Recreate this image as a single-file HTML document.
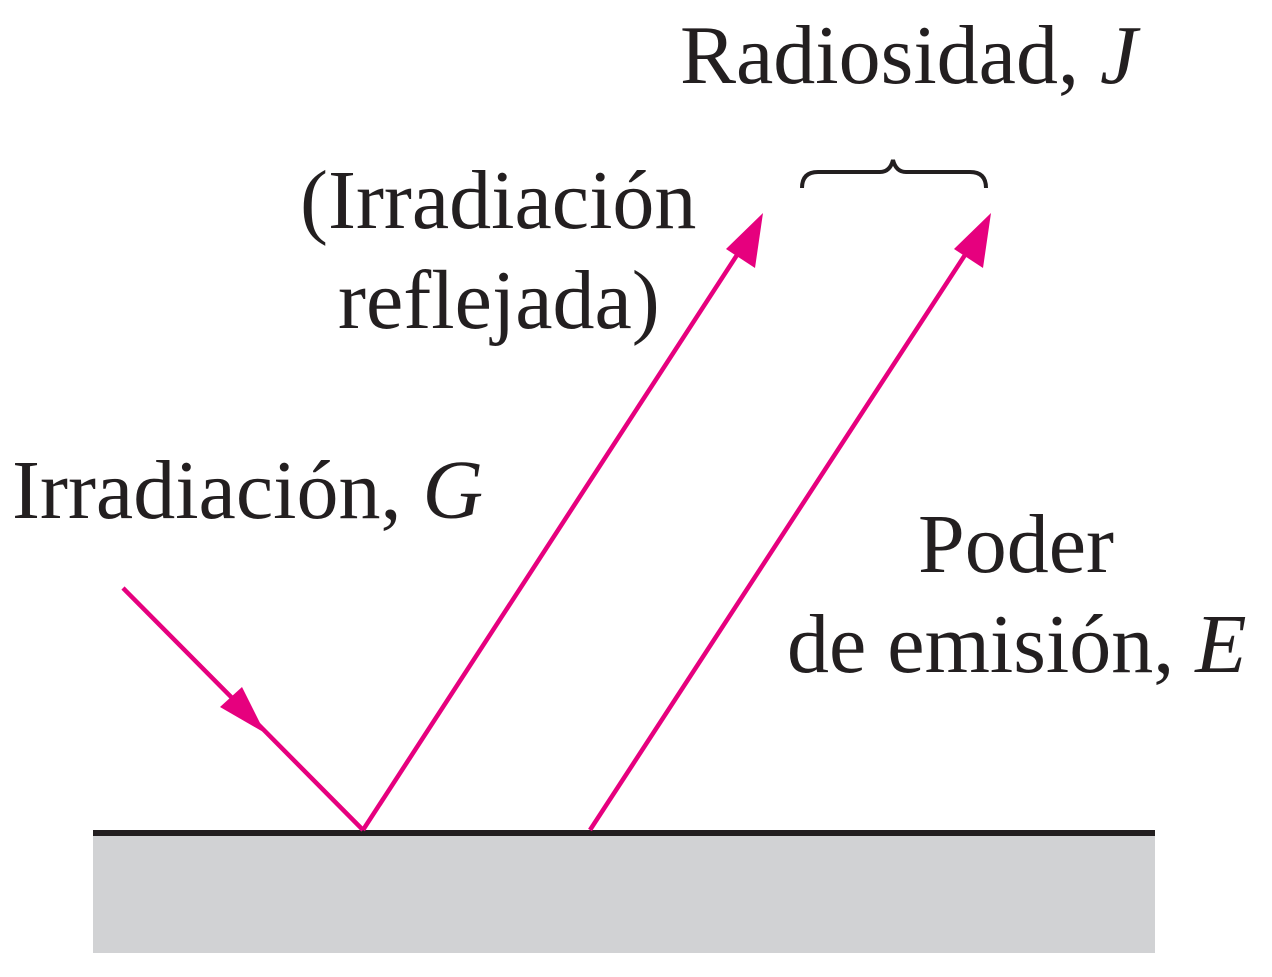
<!DOCTYPE html>
<html><head><style>
body{margin:0;background:#fff;}
svg{display:block;}
text{font-family:"Liberation Serif",serif;font-size:84px;fill:#231f20;}
</style></head><body>
<svg width="1272" height="977" viewBox="0 0 1272 977">
<rect x="93" y="835" width="1062" height="118" fill="#d1d2d4"/>
<rect x="93" y="830" width="1062" height="6" fill="#231f20"/>
<g stroke="#e6007e" stroke-width="4.5" fill="none">
<line x1="123" y1="588" x2="363" y2="830"/>
<line x1="363" y1="830" x2="750" y2="235"/>
<line x1="590" y1="830" x2="978" y2="235"/>
</g>
<g fill="#e6007e">
<polygon points="265,733 220,707 242,687"/>
<polygon points="763,213 755,268 726,249"/>
<polygon points="991,213 983,268 954,249"/>
</g>
<path d="M802,188 Q802,172 818,172 L880,172 Q890,172 893,160 Q896,172 906,172 L970,172 Q986,172 986,188" stroke="#231f20" stroke-width="4" fill="none"/>
<text x="680" y="83">Radiosidad, <tspan font-style="italic">J</tspan></text>
<text x="300" y="228">(Irradiación</text>
<text x="338" y="328">reflejada)</text>
<text x="12" y="518">Irradiación, <tspan font-style="italic">G</tspan></text>
<text x="918" y="572">Poder</text>
<text x="787" y="672">de emisión, <tspan font-style="italic">E</tspan></text>
</svg>
</body></html>
